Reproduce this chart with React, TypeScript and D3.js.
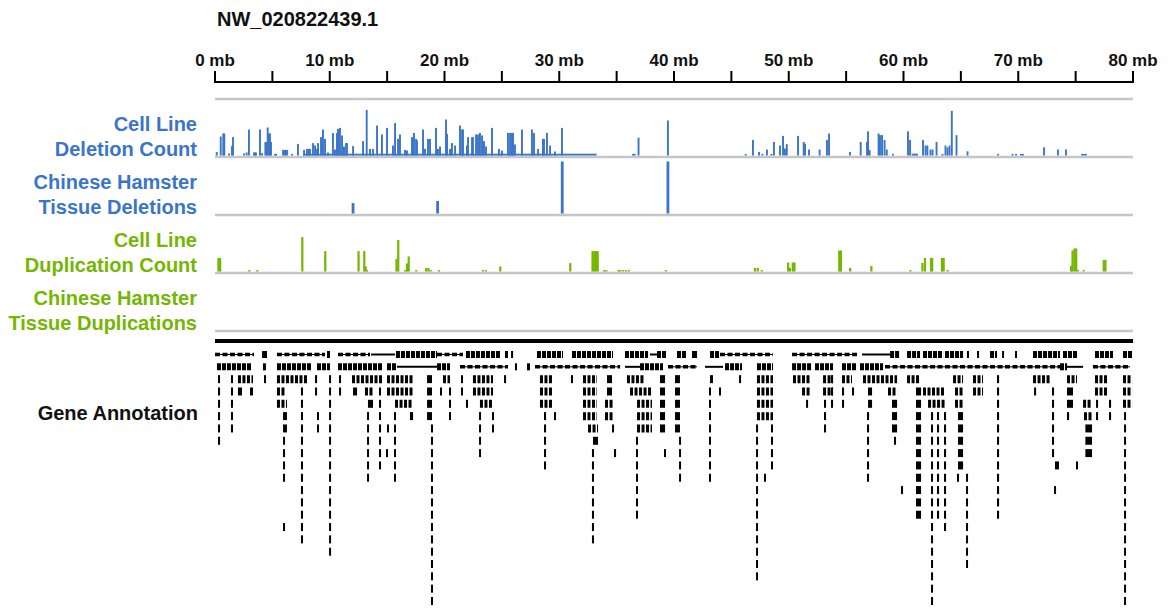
import React from 'react';
import * as d3 from 'd3';

const TITLE = 'NW_020822439.1';
const axisTicks = [0, 10, 20, 30, 40, 50, 60, 70, 80];
const minorTicks = [5, 15, 25, 35, 45, 55, 65, 75];

const trackLabels = [
  ['Cell Line', 'Deletion Count'],
  ['Chinese Hamster', 'Tissue Deletions'],
  ['Cell Line', 'Duplication Count'],
  ['Chinese Hamster', 'Tissue Duplications'],
];
const geneLabel = 'Gene Annotation';

// Cell line deletion count: [position (mb), count]
const delCounts: [number, number][] = [
  [0.15, 1.7], [0.5, 9.5], [0.72, 11], [0.81, 11], [1.22, 1], [1.48, 4.7], [1.57, 9.2], [2.53, 1], [2.76, 1.5],
  [2.96, 13], [3.4, 1.5], [3.49, 1.5], [3.57, 1.5], [3.92, 13], [4.1, 1.2], [4.39, 6.7], [4.5, 6.7], [4.59, 14],
  [4.71, 11], [4.79, 11], [4.88, 6.7], [5.23, 0.8], [5.32, 0.8], [5.93, 2.8], [6.05, 2.8], [6.17, 2.8], [6.29, 2.8],
  [6.71, 0.8], [7.23, 5.8], [7.76, 2.8], [8.02, 3.3], [8.15, 3.3], [8.28, 3.3], [8.54, 6.2], [8.72, 5], [8.89, 3.3],
  [8.98, 6.2], [9.24, 9.2], [9.41, 13], [9.59, 8.3], [9.85, 1.5], [10.28, 11.2], [10.46, 3], [10.63, 11.2],
  [10.72, 13.3], [10.89, 13.8], [11.07, 10], [11.24, 4.5], [11.42, 6.2], [11.5, 6.2], [12.03, 4.7], [12.9, 7.2],
  [13.22, 22.8], [13.51, 3.3], [13.77, 3.3], [14.12, 15], [14.55, 10.5], [14.99, 13.8], [15.51, 5], [15.69, 16.2],
  [15.95, 8.3], [16.12, 10.5], [16.56, 2.8], [16.73, 2.5], [17.17, 9.2], [17.34, 11.3], [17.52, 8.3], [17.6, 7.5],
  [18.13, 13], [18.3, 3.3], [18.56, 8.3], [18.74, 8.3], [19.26, 13.8], [19.43, 3.3], [19.61, 4.5], [20.13, 18],
  [20.22, 10.8], [20.48, 3.3], [20.65, 6.2], [20.92, 5], [21.35, 15], [21.53, 13], [21.61, 13], [21.96, 5],
  [22.05, 9.2], [22.4, 9.2], [22.48, 9.2], [22.75, 10.5], [22.92, 10.5], [23.09, 11.3], [23.27, 10], [23.44, 7.2],
  [23.62, 4.5], [24.14, 13.8], [24.75, 3.3], [25.01, 2.5], [25.53, 11.3], [25.71, 11.3], [25.88, 11.3],
  [25.97, 11.3], [26.14, 5.5], [26.75, 13], [27.62, 13], [27.8, 11.3], [28.15, 3.3], [28.58, 8.3], [28.67, 8.3],
  [28.93, 11.3], [29.2, 5], [29.63, 2], [30.24, 13.8],
  [36.43, 0.8], [36.58, 0.8], [36.91, 8.9], [39.47, 17.5], [46.25, 0.8], [46.88, 7.8], [47.41, 1.8], [47.71, 0.8],
  [48.1, 3], [48.49, 0.8], [48.71, 6.8], [49.24, 5], [49.5, 9.8], [49.67, 3.5], [49.83, 5.7], [50.81, 9.8],
  [51.3, 6.8], [51.42, 5.9], [51.77, 3], [52.69, 3], [53.33, 7.8], [53.51, 11], [55.34, 1.8], [56.27, 6.8],
  [56.82, 6.8], [56.91, 12.1], [57.05, 2.7], [57.83, 11], [57.95, 10.2], [58.13, 10.2], [58.35, 7.8], [58.54, 3],
  [59.08, 0.8], [60.39, 12.1], [60.57, 7.8], [60.79, 0.9], [60.92, 0.9], [61.05, 0.9], [61.18, 0.9], [61.7, 7.8],
  [61.92, 5], [62.08, 5], [62.35, 3], [62.53, 3], [62.88, 6.8], [63.4, 0.8], [63.66, 5], [63.84, 4], [64.01, 5],
  [64.21, 22.3], [64.62, 10.2], [65.58, 2.1], [68.24, 0.8], [69.5, 0.8], [69.81, 0.8], [70.24, 0.8], [70.41, 0.8],
  [72.25, 4.1], [73.46, 3], [74.16, 3], [75.56, 0.8], [75.73, 0.8], [75.9, 0.8],
];
// low continuous deletion level: [start mb, end mb, count]
const delFloor: [number, number, number][] = [[7.67, 33.26, 0.9]];

// Chinese hamster tissue deletions: [position mb, count]
const tissueDel: [number, number][] = [[12.03, 1.0], [19.4, 1.2], [30.26, 5], [39.47, 5]];

// Cell line duplication count: [position mb, count]
const dupCounts: [number, number][] = [
  [0.3, 6.7], [0.45, 6.7], [2.99, 0.7], [3.69, 0.7], [7.61, 17.2], [9.61, 10.2], [12.51, 10.2], [13.01, 10.2],
  [13.13, 2.5], [13.25, 0.7], [15.82, 6.3], [15.97, 15.7], [16.58, 0.7], [16.73, 4], [16.88, 7.5], [17.54, 0.7],
  [18.4, 1.7], [18.6, 1.7], [18.8, 0.7], [19.52, 0.7], [23.35, 0.7], [23.6, 0.7], [24.86, 2.5], [30.96, 4.2],
  [32.9, 10.2], [33.05, 10.2], [33.2, 10.2], [33.35, 10.2], [33.9, 0.7], [34.1, 0.7], [35.18, 0.7], [35.3, 0.7],
  [35.55, 0.7], [35.8, 0.7], [36.05, 0.7], [39.3, 0.7], [47.05, 1.8], [47.3, 1.8], [47.65, 0.7], [49.95, 4.5],
  [50.1, 1.8], [50.35, 4.5], [50.5, 4.5], [54.4, 10.5], [54.55, 10.5], [55.35, 1.8], [57.2, 2.8], [60.6, 0.7],
  [61.65, 4.3], [61.87, 6.8], [62.4, 6.8], [62.5, 6.8], [63.35, 6.8], [63.5, 6.8], [63.85, 0.7], [74.6, 2.8],
  [74.73, 10.5], [74.9, 11.5], [75.05, 11.5], [75.2, 0.7], [75.7, 0.7], [77.45, 5.8], [77.6, 5.8],
];

// Chinese hamster tissue duplications: none
const tissueDup: [number, number][] = [];

// Gene annotation, first two rows: [row, start mb, end mb, kind] kind 0 fragmented, 1 intron line, 2 exon cluster
const geneSpans: [number, number, number, number][] = [
  [0, 0.0, 3.4, 0], [0, 4.1, 4.53, 2], [0, 5.4, 9.59, 0], [0, 9.76, 10.02, 2], [0, 10.72, 13.51, 0],
  [0, 13.6, 15.69, 1], [0, 15.77, 19.35, 2], [0, 19.35, 21.61, 0], [0, 21.87, 24.84, 2], [0, 25.27, 25.53, 2],
  [0, 25.8, 25.98, 2], [0, 28.06, 30.33, 2], [0, 31.11, 34.69, 2], [0, 35.73, 37.74, 2], [0, 37.91, 38.52, 1],
  [0, 38.52, 39.39, 2], [0, 40.26, 41.13, 2], [0, 41.57, 42.01, 2], [0, 43.14, 44.01, 2], [0, 44.01, 48.63, 0],
  [0, 50.29, 55.95, 0], [0, 56.39, 58.83, 1], [0, 58.83, 59.7, 2], [0, 60.31, 61.44, 2], [0, 61.7, 63.45, 2],
  [0, 63.62, 65.19, 2], [0, 65.53, 65.71, 2], [0, 66.41, 66.58, 2], [0, 67.54, 68.15, 2], [0, 68.59, 68.76, 2],
  [0, 69.72, 69.89, 2], [0, 71.29, 73.64, 2], [0, 73.9, 75.12, 2], [0, 76.69, 78.26, 2], [0, 79.13, 79.92, 2],
  [1, 0.17, 3.22, 2], [1, 4.18, 4.44, 2], [1, 5.4, 8.45, 2], [1, 8.89, 10.02, 2], [1, 10.72, 14.64, 2],
  [1, 14.99, 15.86, 2], [1, 15.86, 19.35, 1], [1, 19.35, 20.48, 2], [1, 21.35, 25.53, 0], [1, 26.14, 26.32, 2],
  [1, 27.19, 27.45, 2], [1, 27.89, 35.3, 0], [1, 35.73, 37.04, 1], [1, 37.04, 39.04, 2], [1, 39.48, 42.01, 0],
  [1, 42.7, 44.27, 1], [1, 44.45, 45.93, 2], [1, 47.23, 48.63, 2], [1, 50.29, 52.03, 2], [1, 52.29, 53.86, 2],
  [1, 54.64, 55.95, 2], [1, 56.21, 58.22, 2], [1, 58.39, 73.64, 0], [1, 73.64, 74.25, 2], [1, 74.25, 75.65, 1],
  [1, 76.51, 79.74, 0],
];

// Gene annotation, stacked features below: [start mb, end mb, first row, last row]
const geneStacks: [number, number, number, number][] = [
  [0.26, 0.44, 2, 7], [1.39, 1.57, 2, 6], [2.0, 3.31, 2, 2], [2.0, 2.35, 3, 3], [3.05, 3.31, 3, 3],
  [4.27, 4.44, 2, 2], [5.4, 8.02, 2, 2], [5.4, 6.1, 3, 3], [5.4, 6.27, 4, 4], [5.93, 6.27, 5, 6],
  [5.93, 6.1, 7, 10], [5.93, 6.1, 14, 14], [7.49, 7.67, 3, 15], [8.72, 8.89, 2, 3], [8.89, 9.06, 5, 6],
  [9.94, 10.11, 2, 16], [10.81, 10.98, 2, 3], [11.94, 14.64, 2, 2], [12.03, 12.38, 3, 3], [13.07, 13.77, 3, 3],
  [13.33, 13.77, 4, 4], [13.25, 13.42, 5, 10], [14.29, 14.47, 3, 9], [14.99, 17.26, 2, 3], [15.69, 17.26, 4, 4],
  [15.6, 15.77, 5, 10], [16.99, 17.26, 5, 5], [18.48, 18.91, 2, 5], [18.82, 19.0, 6, 20], [19.61, 19.78, 3, 3],
  [19.87, 20.48, 2, 2], [20.39, 20.57, 3, 5], [21.44, 21.61, 2, 3], [21.87, 22.05, 4, 4], [22.48, 24.23, 2, 3],
  [23.09, 24.23, 4, 4], [23.01, 23.18, 5, 8], [24.14, 24.31, 5, 6], [25.19, 25.36, 2, 2], [14.99, 15.08, 6, 6],
  [14.9, 14.99, 8, 8],
  [28.32, 29.46, 2, 4], [28.67, 28.85, 5, 9], [29.54, 29.72, 5, 5], [31.02, 31.2, 2, 2], [32.07, 33.29, 2, 5],
  [32.51, 33.38, 6, 6], [32.94, 33.38, 7, 7], [32.85, 33.03, 8, 15], [34.16, 34.6, 2, 3], [33.99, 34.69, 4, 5],
  [34.6, 34.77, 6, 6], [34.77, 34.95, 8, 8], [35.9, 37.47, 2, 2], [36.17, 38.08, 3, 3], [36.78, 38.08, 4, 6],
  [36.69, 36.86, 7, 13], [38.78, 39.22, 2, 6], [39.13, 39.3, 8, 8], [40.09, 40.52, 2, 6], [40.44, 40.61, 7, 10],
  [43.14, 43.4, 2, 2], [43.05, 43.22, 3, 10], [43.92, 44.1, 3, 3], [45.67, 45.84, 2, 2], [47.23, 48.63, 2, 5],
  [48.45, 48.63, 6, 9], [47.15, 47.32, 6, 18], [47.84, 48.02, 10, 10], [50.37, 51.85, 2, 2], [51.16, 51.85, 3, 3],
  [51.51, 51.68, 4, 4], [52.99, 53.86, 2, 3], [53.07, 53.25, 4, 6],
  [53.68, 53.86, 2, 4], [54.64, 55.51, 2, 2], [54.64, 54.82, 3, 4], [55.51, 55.69, 3, 3], [56.47, 59.44, 2, 2],
  [56.91, 57.26, 3, 4], [56.82, 57.0, 5, 10], [58.65, 59.44, 3, 3], [59.0, 59.44, 4, 6], [59.17, 59.35, 7, 7],
  [59.78, 59.96, 11, 11], [60.31, 61.44, 2, 2], [61.09, 61.53, 3, 13], [61.7, 63.62, 3, 3], [62.14, 63.62, 4, 4],
  [62.4, 62.57, 5, 20], [62.92, 63.1, 5, 13], [63.53, 63.71, 5, 14], [64.32, 65.19, 2, 2], [64.49, 65.19, 3, 4],
  [64.75, 65.19, 5, 9], [64.66, 64.84, 10, 10], [65.45, 65.62, 10, 17], [66.06, 66.93, 2, 3], [68.15, 68.33, 2, 13],
  [71.29, 72.77, 2, 2], [71.38, 71.55, 3, 3], [72.94, 73.12, 3, 8], [73.2, 73.55, 9, 9], [73.12, 73.29, 11, 11],
  [74.25, 75.12, 2, 2], [74.25, 74.77, 3, 4], [74.25, 74.43, 5, 5], [75.03, 75.21, 9, 9], [75.65, 76.43, 4, 4],
  [75.73, 76.43, 5, 5], [75.85, 76.43, 6, 8], [76.69, 77.74, 2, 3], [76.78, 76.95, 4, 5], [77.91, 78.09, 4, 5],
  [79.13, 79.92, 2, 4], [79.22, 79.39, 5, 20],
];

const BLUE = '#3a75c9';
const GREEN = '#74b600';
const GRAY = '#c6c6c6';
const FONT = '"Liberation Sans", Arial, Helvetica, sans-serif';

export default function App() {
  const W = 1171;
  const H = 608;
  const x = d3.scaleLinear().domain([0, 80]).range([215, 1133]);
  const laneTop = 99;
  const laneH = 58;
  const lanes = [0, 1, 2, 3].map((i) => ({ top: laneTop + i * laneH, bottom: laneTop + (i + 1) * laneH }));
  const countScale = (bottom: number) => d3.scaleLinear().domain([0, 25]).range([bottom - 1.5, bottom - 51.5]);
  const tissueScale = (bottom: number) => d3.scaleLinear().domain([0, 5]).range([bottom - 1.5, bottom - 53.5]);
  const rowY = d3.scaleLinear().domain([0, 20]).range([354.5, 601]);
  const barW = 1.9;

  const bars = (data: [number, number][], y: d3.ScaleLinear<number, number>, color: string, w = barW) =>
    data.map(([p, v], i) => (
      <rect key={i} x={x(p) - w / 2} width={w} y={y(v)} height={y(0) - y(v)} fill={color} />
    ));

  const yDel = countScale(lanes[0].bottom);
  const yTDel = tissueScale(lanes[1].bottom);
  const yDup = countScale(lanes[2].bottom);
  const yTDup = tissueScale(lanes[3].bottom);
  const labelColors = [BLUE, BLUE, GREEN, GREEN];

  return (
    <svg width={W} height={H} style={{ position: 'absolute', left: 0, top: 0, background: '#fff' }}
      fontFamily={FONT}>
      <rect width={W} height={H} fill="#fff" />
      <text x={217} y={26} fontSize={20} fontWeight="bold" fill="#111">{TITLE}</text>

      {/* axis */}
      <g>
        <line x1={x(0) - 1} x2={x(80) + 1} y1={82} y2={82} stroke="#000" strokeWidth={2} />
        {axisTicks.concat(minorTicks).map((t) => (
          <line key={'t' + t} x1={x(t)} x2={x(t)} y1={71} y2={82} stroke="#000" strokeWidth={2} />
        ))}
        {axisTicks.map((t) => (
          <text key={'l' + t} x={x(t)} y={66} fontSize={17} fontWeight="bold" textAnchor="middle" fill="#111">
            {`${t} mb`}
          </text>
        ))}
      </g>

      {/* lane separators */}
      {[laneTop, ...lanes.map((l) => l.bottom)].map((yy, i) => (
        <line key={'sep' + i} x1={x(0)} x2={x(80)} y1={yy} y2={yy} stroke={GRAY} strokeWidth={2.5} />
      ))}

      {/* lane labels */}
      {trackLabels.map((lines, i) => (
        <text key={'lab' + i} x={197} fontSize={20} fontWeight="bold" textAnchor="end" fill={labelColors[i]}>
          <tspan x={197} y={lanes[i].bottom - 26}>{lines[0]}</tspan>
          <tspan x={197} y={lanes[i].bottom - 1}>{lines[1]}</tspan>
        </text>
      ))}

      {/* deletion count */}
      <g>
        {delFloor.map(([a, b, v], i) => (
          <rect key={'f' + i} x={x(a)} width={x(b) - x(a)} y={yDel(v)} height={yDel(0) - yDel(v)} fill={BLUE} />
        ))}
        {bars(delCounts, yDel, BLUE)}
      </g>
      <g>{bars(tissueDel, yTDel, BLUE, 2.8)}</g>
      <g>{bars(dupCounts, yDup, GREEN, 2.2)}</g>
      <g>{bars(tissueDup, yTDup, GREEN, 2.8)}</g>

      {/* gene annotation */}
      <rect x={x(0)} width={x(80) - x(0)} y={339} height={4} fill="#000" />
      <text x={198} y={420} fontSize={20} fontWeight="bold" textAnchor="end" fill="#111">{geneLabel}</text>
      <g>
        {geneSpans.map(([r, a, b, k], i) => {
          const yy = rowY(r);
          if (k === 1) {
            return <line key={'s' + i} x1={x(a)} x2={x(b)} y1={yy} y2={yy} stroke="#000" strokeWidth={2} />;
          }
          if (k === 0) {
            return (
              <g key={'s' + i}>
                <line x1={x(a)} x2={x(b)} y1={yy} y2={yy} stroke="#000" strokeWidth={1} />
                <line x1={x(a)} x2={x(b)} y1={yy} y2={yy} stroke="#000" strokeWidth={3.5} strokeDasharray="5 2.5" />
              </g>
            );
          }
          return (
            <line key={'s' + i} x1={x(a)} x2={Math.max(x(b), x(a) + 2)} y1={yy} y2={yy} stroke="#000"
              strokeWidth={7} strokeDasharray={x(b) - x(a) > 6 ? '4 1' : undefined} />
          );
        })}
        {geneStacks.map(([a, b, r0, r1], i) => {
          const w = Math.max(2, x(b) - x(a));
          const striped = b - a > 0.6;
          return d3.range(r0, r1 + 1).map((r) => {
            const yy = rowY(r);
            return (
              <line key={'k' + i + '_' + r} x1={x(a)} x2={x(a) + w} y1={yy} y2={yy} stroke="#000"
                strokeWidth={8} strokeDasharray={striped ? '3 1.5' : undefined} />
            );
          });
        })}
      </g>
    </svg>
  );
}
